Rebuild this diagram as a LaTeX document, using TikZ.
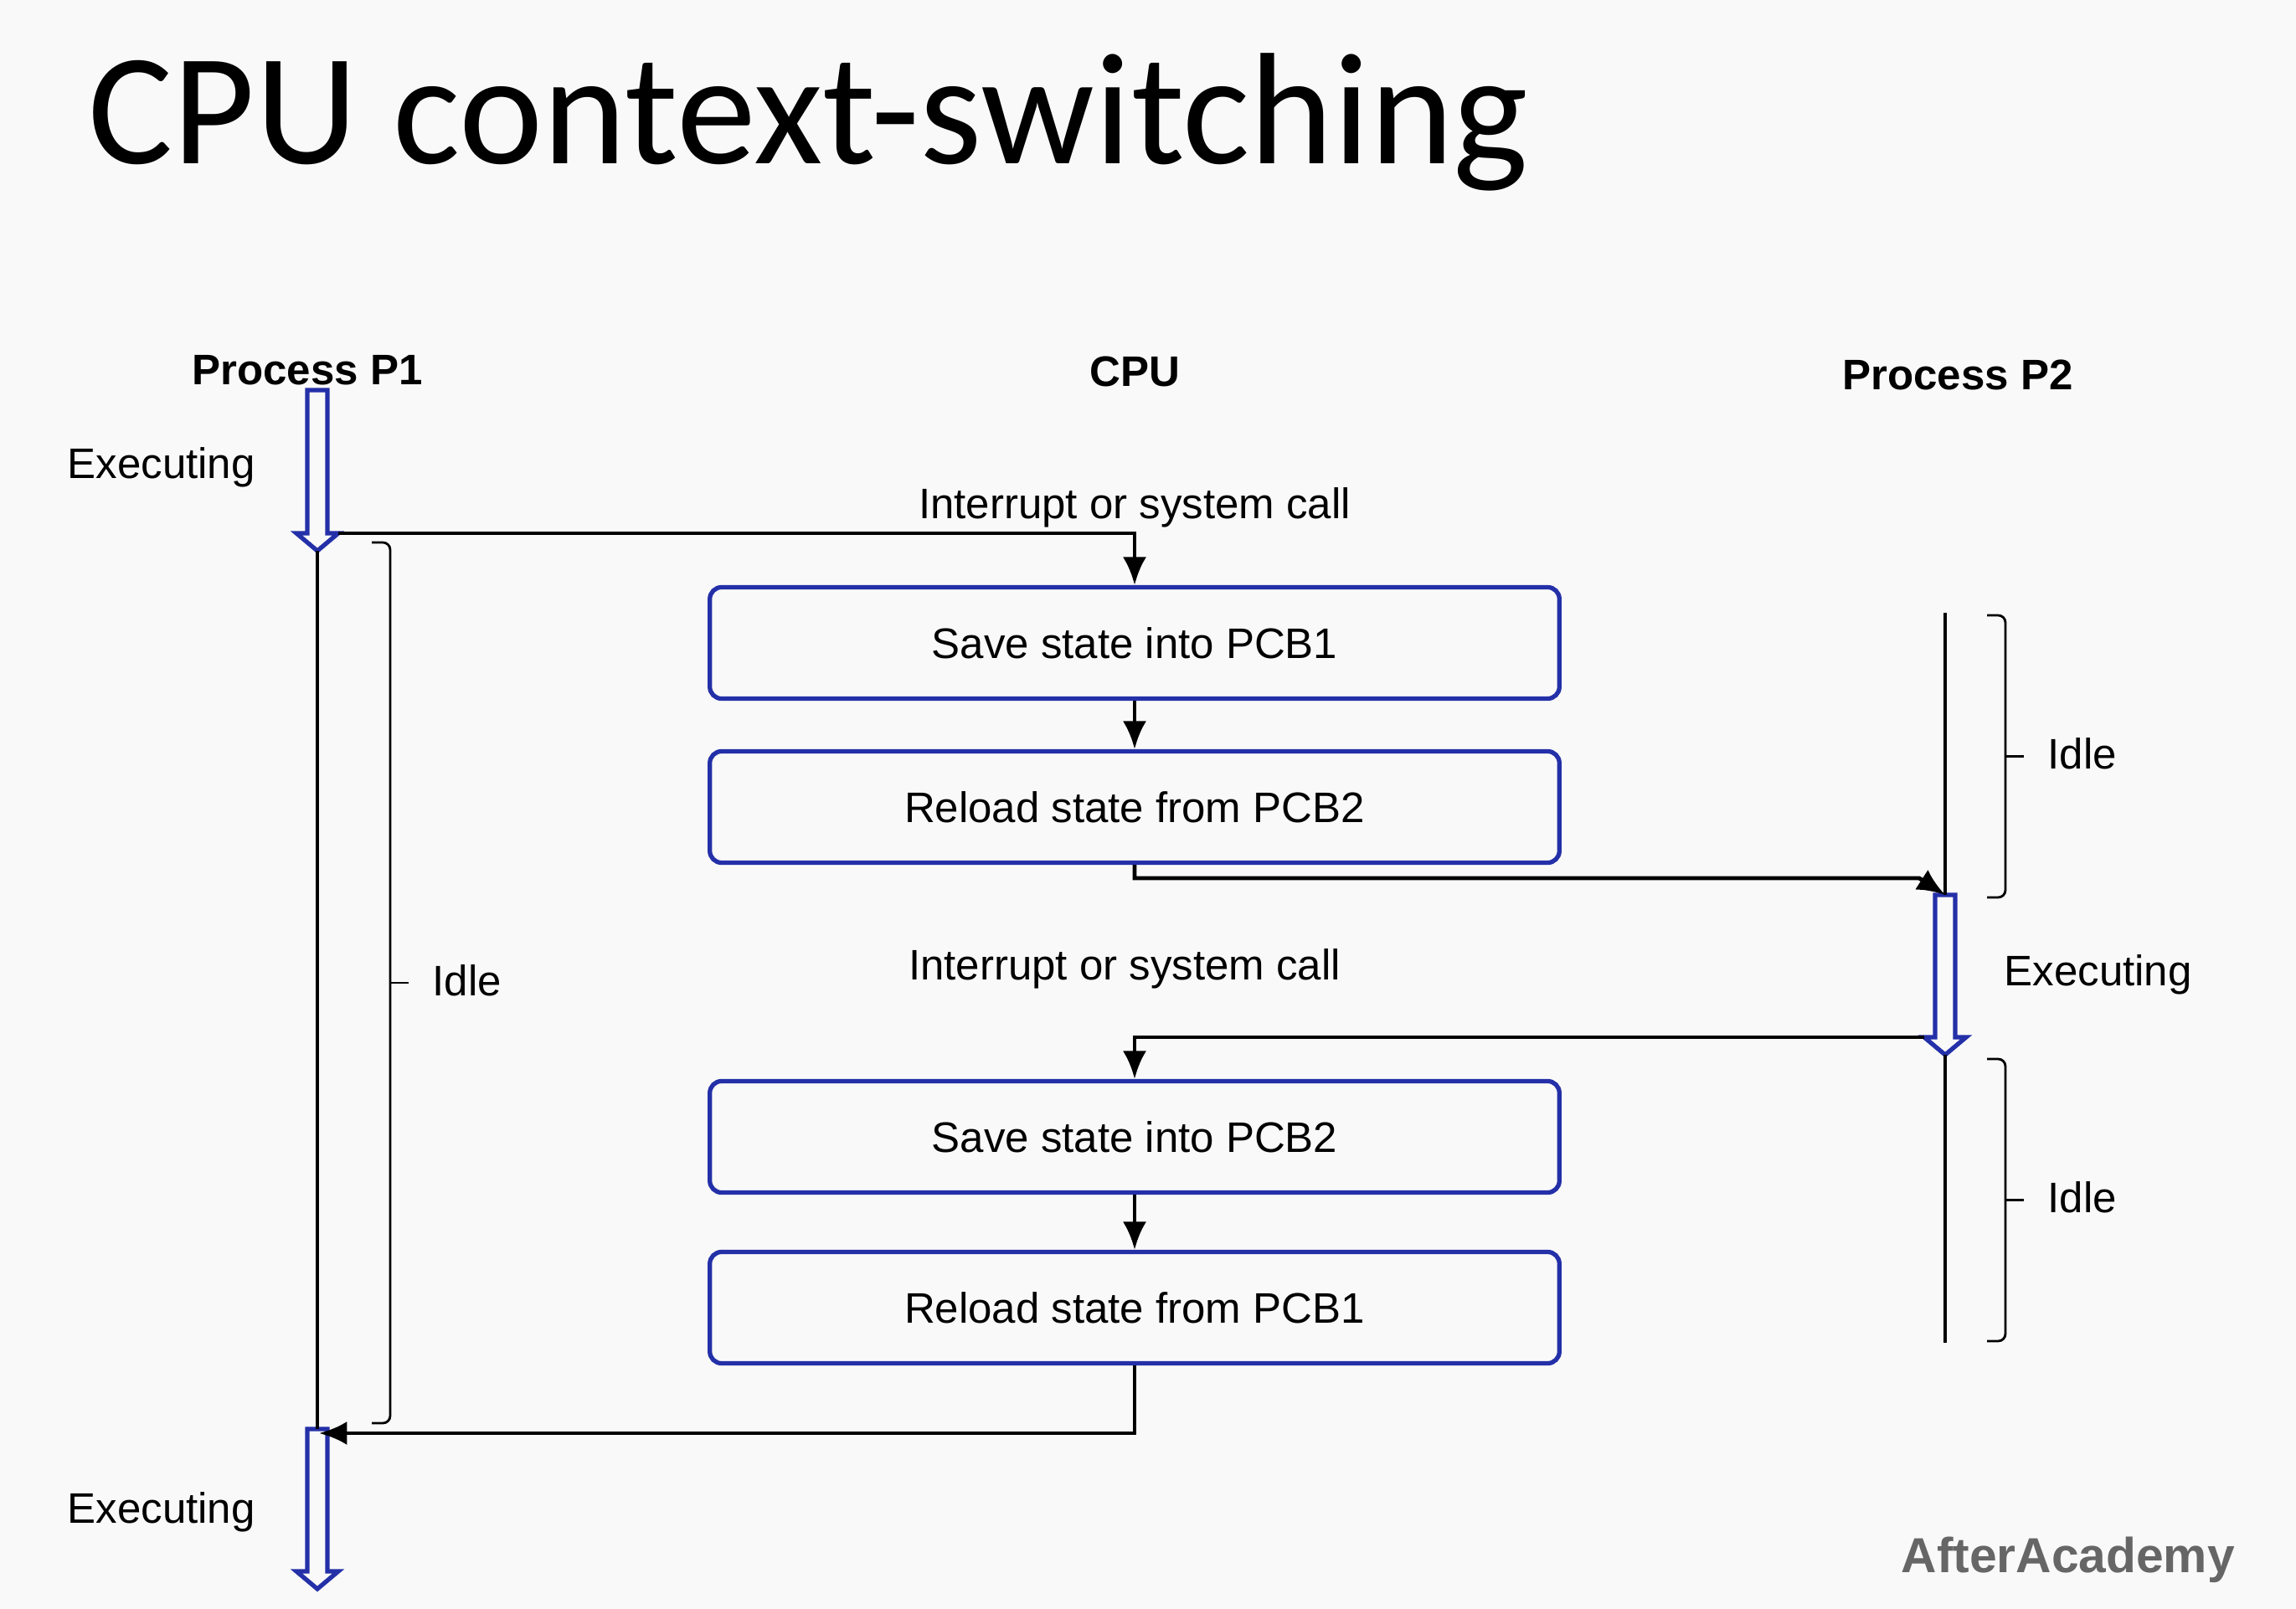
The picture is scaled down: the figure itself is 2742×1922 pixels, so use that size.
\documentclass[tikz,border=0pt]{standalone}
\usepackage{fontspec}
\setmainfont{Liberation Sans}
\newfontfamily\titlefont{Carlito}
\usetikzlibrary{arrows.meta}

\definecolor{pblue}{RGB}{36,48,168}
\definecolor{slidebg}{RGB}{249,249,249}
\definecolor{markgray}{RGB}{102,102,102}

% hollow "executing" arrow: #1 name, #2 x, #3 top y, #4 tip y
\newcommand{\execarrow}[4]{%
  \draw[hollow] (#2-12,#3) -- (#2+12,#3) -- (#2+12,#4-21) -- (#2+25,#4-21)
    -- (#2,#4) -- (#2-25,#4-21) -- (#2-12,#4-21) -- cycle;
  \coordinate (#1top) at (#2,#3);
  \coordinate (#1tip) at (#2,#4);
  \coordinate (#1left) at (#2-25,#4-21);
  \coordinate (#1right) at (#2+25,#4-21);
}
% idle bracket with label: #1 name, #2 x, #3 top y, #4 bottom y
\newcommand{\idlebrace}[4]{%
  \draw[brace] (#2-22,#3) -- (#2,#3) -- (#2,#4) -- (#2-22,#4);
  \draw[brace] (#2,{(#3+#4)/2}) -- (#2+22,{(#3+#4)/2});
  \node[lbl, anchor=base west] (#1) at (#2+50,{(#3+#4)/2+15}) {Idle};
}

\begin{document}
\begin{tikzpicture}[x=0.01cm, y=-0.01cm,
  stepbox/.style={draw=pblue, line width=1.5pt, rounded corners=4pt,
    minimum width=10.14cm, minimum height=1.33cm, font=\fontsize{14.5}{17}\selectfont},
  lbl/.style={inner sep=0pt, font=\fontsize{14.5}{17}\selectfont},
  head/.style={inner sep=0pt, font=\fontsize{14.5}{17}\selectfont\bfseries},
  flow/.style={line width=1.4pt, -{Latex[length=9.5pt,width=8pt]}},
  timeline/.style={line width=1.4pt},
  brace/.style={line width=0.8pt, rounded corners=2.5pt},
  hollow/.style={draw=pblue, line width=1.5pt, fill=slidebg, line join=miter}]

    % slide background fixes the page size
    \path[use as bounding box, fill=slidebg] (0,0) rectangle (2742,1922);

    % title and watermark
    \node[anchor=base west, inner sep=0pt, font=\titlefont\fontsize{54}{60}\selectfont] (title) at (105,196) {CPU context-switching};
    \node[anchor=base west, inner sep=0pt, text=markgray, font=\fontsize{16.7}{20}\selectfont\bfseries] (mark) at (2270,1878) {AfterAcademy};

    % column headers
    \node[head, anchor=base] (hp1) at (367,460) {Process P1};
    \node[head, anchor=base] (hcpu) at (1355,462) {CPU};
    \node[head, anchor=base] (hp2) at (2338,466) {Process P2};

    % the four CPU steps
    \foreach \nm/\yy/\txt in {sv1/768/Save state into PCB1, rl2/964/Reload state from PCB2,
                              sv2/1358/Save state into PCB2, rl1/1562/Reload state from PCB1} {
        \node[stepbox] (\nm) at (1355,\yy) {\txt};
    }

    % executing arrows
    \execarrow{pa}{379}{466}{658}
    \execarrow{pb}{379}{1707}{1898}
    \execarrow{pc}{2323}{1069}{1260}

    % time lines of the two processes
    \coordinate (p2start) at (2323,732);
    \coordinate (p2end) at (2323,1604);
    \draw[timeline] (patip) -- (pbtop);
    \draw[timeline] (p2start) -- (pctop);
    \draw[timeline] (pctip) -- (p2end);

    % idle brackets
    \idlebrace{idle1}{466}{648}{1700}
    \idlebrace{idle2}{2395}{735}{1072}
    \idlebrace{idle3}{2395}{1265}{1602}

    % labels
    \node[lbl, anchor=base west] (ex1) at (80,572) {Executing};
    \node[lbl, anchor=base west] (ex2) at (2393,1177) {Executing};
    \node[lbl, anchor=base west] (ex3) at (80,1819) {Executing};
    \node[lbl, anchor=base] (irq1) at (1355,620) {Interrupt or system call};
    \node[lbl, anchor=base] (irq2) at (1343,1170) {Interrupt or system call};

    % control flow between processes and CPU
    \coordinate (tobend) at (2292,1049);
    \coordinate (p1ret) at (381,1712);
    \draw[flow] (paright) -| (sv1.north);
    \draw[flow] (sv1) -- (rl2);
    \draw[flow] (rl2.south) |- (tobend) -- (pctop);
    \draw[flow] (pcleft) -| (sv2.north);
    \draw[flow] (sv2) -- (rl1);
    \draw[flow] (rl1.south) |- (p1ret);
\end{tikzpicture}
\end{document}
